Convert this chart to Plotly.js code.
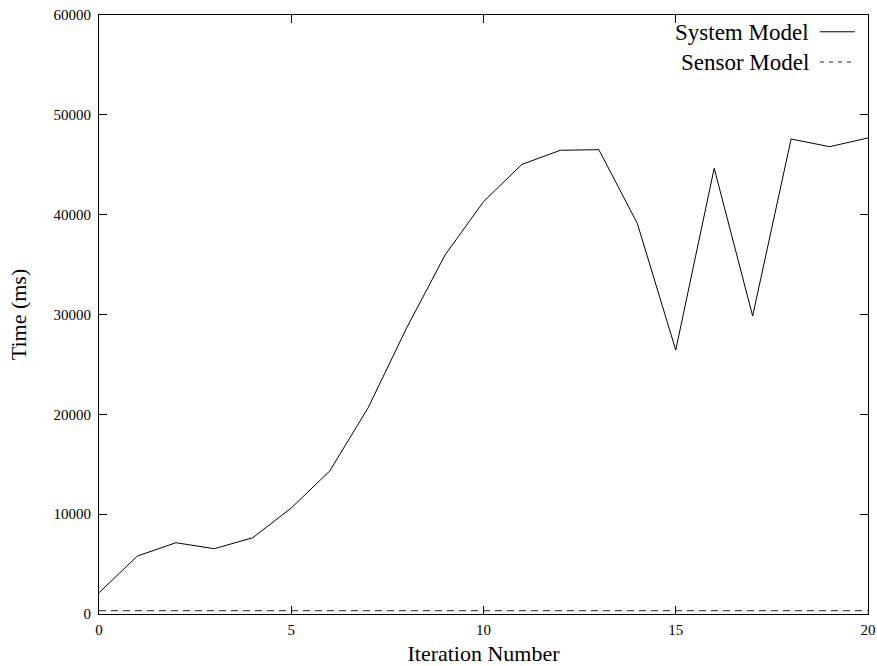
<!DOCTYPE html>
<html>
<head>
<meta charset="utf-8">
<script src="https://cdn.plot.ly/plotly-3.0.1.min.js"></script>
<style>html,body{margin:0;padding:0;background:#fff;}#chart{width:877px;height:666px;}</style>
</head>
<body>
<div id="chart"></div>
<script>
const iterations = [0,1,2,3,4,5,6,7,8,9,10,11,12,13,14,15,16,17,18,19,20];
const systemModel = [2130,5810,7140,6540,7640,10620,14320,20660,28650,35960,41300,45040,46450,46510,39130,26440,44650,29850,47580,46810,47680];
const sensorModel = [330,330,330,330,330,330,330,330,330,330,330,330,330,330,330,330,330,330,330,330,330];
const seriesNames = ["System Model","Sensor Model"];
const xTicks = [0,5,10,15,20];
const yTicks = [0,10000,20000,30000,40000,50000,60000];

const serif = "Liberation Serif, Times New Roman, serif";
const traces = [
  {x: iterations, y: systemModel, name: seriesNames[0], type: "scatter", mode: "lines",
   line: {color: "#000", width: 1}, showlegend: false},
  {x: iterations, y: sensorModel, name: seriesNames[1], type: "scatter", mode: "lines",
   line: {color: "#222", width: 1, dash: "7px,5px"}, showlegend: false}
];

const axisCommon = {
  showline: true, linecolor: "#000", linewidth: 1, mirror: "ticks",
  ticks: "inside", ticklen: 8, tickwidth: 1, tickcolor: "#000",
  showgrid: false, zeroline: false,
  tickfont: {family: serif, size: 15, color: "#000"}
};

const layout = {
  width: 877, height: 666,
  margin: {l: 99, r: 9, t: 15, b: 52},
  paper_bgcolor: "#fff", plot_bgcolor: "#fff",
  xaxis: Object.assign({}, axisCommon, {
    range: [0, 20], tickvals: xTicks, ticktext: xTicks.map(String),
    ticklabelstandoff: 2,
    title: {text: "Iteration Number", font: {family: serif, size: 22, color: "#000"}, standoff: 8}
  }),
  yaxis: Object.assign({}, axisCommon, {
    range: [0, 60000], tickvals: yTicks, ticktext: yTicks.map(String),
    ticklabelstandoff: 4,
    title: {text: "Time (ms)", font: {family: serif, size: 22, color: "#000"}, standoff: 20}
  }),
  annotations: [
    {xref: "paper", yref: "paper", x: 0.926, y: 0.970, xanchor: "right", yanchor: "middle",
     text: seriesNames[0], showarrow: false, font: {family: serif, size: 23, color: "#000"}},
    {xref: "paper", yref: "paper", x: 0.926, y: 0.9215, xanchor: "right", yanchor: "middle",
     text: seriesNames[1], showarrow: false, font: {family: serif, size: 23, color: "#000"}}
  ],
  shapes: [
    {type: "line", xref: "paper", yref: "paper", x0: 0.9376, x1: 0.983, y0: 0.972, y1: 0.972,
     line: {color: "#000", width: 1}},
    {type: "line", xref: "paper", yref: "paper", x0: 0.9376, x1: 0.983, y0: 0.9215, y1: 0.9215,
     line: {color: "#222", width: 1, dash: "4px,5px"}}
  ]
};

Plotly.newPlot("chart", traces, layout, {staticPlot: true, displayModeBar: false});
</script>
</body>
</html>
